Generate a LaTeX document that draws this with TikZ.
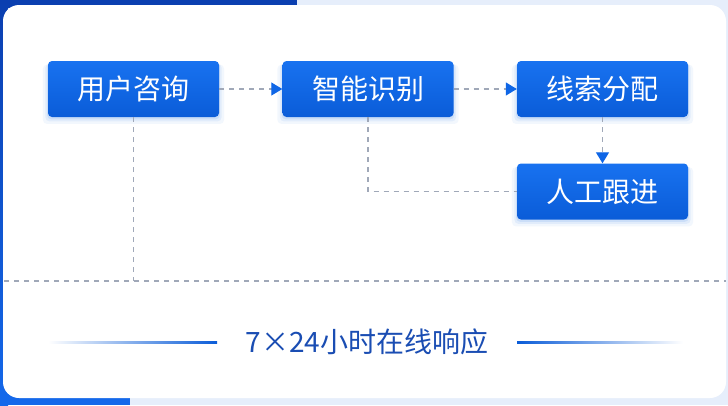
\documentclass[tikz,border=0pt]{standalone}
\usepackage{fontspec}
\setmainfont{Noto Sans CJK SC}
\usetikzlibrary{arrows.meta,shadows}
\definecolor{boxtop}{HTML}{1872F0}
\definecolor{boxbot}{HTML}{0A5CD8}
\definecolor{tipblue}{HTML}{0F66E6}
\definecolor{dashgray}{HTML}{A0A8B8}
\definecolor{txtblue}{HTML}{1A4DB3}
\definecolor{pagebg}{HTML}{E6EEFB}
\definecolor{frameblue}{HTML}{0B3FB0}
\definecolor{frameblue2}{HTML}{1468EA}
\tikzset{
  stepbox/.style={rectangle, rounded corners=4pt, minimum width=171pt, minimum height=56pt,
    top color=boxtop, bottom color=boxbot, draw=none, text=white,
    font=\fontsize{28}{30}\selectfont, inner sep=0pt,
    general shadow={fill=tipblue, opacity=0.05, shadow yshift=-5pt, shadow xshift=0pt, shadow scale=1.06},
    general shadow={fill=tipblue, opacity=0.07, shadow yshift=-3.5pt, shadow xshift=0pt, shadow scale=1.03},
    general shadow={fill=tipblue, opacity=0.10, shadow yshift=-2pt, shadow xshift=0pt, shadow scale=1.01}},
  dline/.style={draw=dashgray, line width=1.1pt, dash pattern=on 5pt off 5pt},
  arr/.style={dline, -{Triangle[length=11pt,width=13pt,color=tipblue]}},
}
\begin{document}
\begin{tikzpicture}[x=1pt,y=-1pt]
\useasboundingbox (0,0) rectangle (728,405);
% page background
\fill[pagebg] (0,0) rectangle (728,405);
\fill[frameblue] (0,0) rectangle (297,8);
\shade[top color=frameblue, bottom color=frameblue2] (0,0) rectangle (8,405);
\fill[frameblue2] (0,390) rectangle (130,405);
% card
\fill[white, rounded corners=16pt] (3,5) rectangle (726,398);
% boxes
\node[stepbox] (a) at (133.5,89) {用户咨询};
\node[stepbox] (b) at (368,89) {智能识别};
\node[stepbox] (c) at (602.5,89) {线索分配};
\node[stepbox] (d) at (602.5,191.5) {人工跟进};
% connectors
\draw[arr] (a.east) -- (b.west);
\draw[arr] (b.east) -- (c.west);
\draw[arr] (c.south) -- (d.north);
\draw[dline] (b.south) |- (d.west);
\coordinate (sepL) at (4,281);
\coordinate (sepR) at (726,281);
\draw[dline] (sepL) -- (sepR);
\draw[dline] (a.south) -- (a.south |- sepL);
% bottom text
\node[text=txtblue, font=\fontsize{28}{30}\selectfont, inner sep=0pt] (t) at (367,342) {7×24小时在线响应};
\coordinate (l1) at (48,342);
\coordinate (r1) at (683,342);
\shade[left color=white, right color=boxbot] (l1 |- 0,341) rectangle (217,343.5);
\shade[left color=boxbot, right color=white] (517,341) rectangle (r1 |- 0,343.5);
\end{tikzpicture}
\end{document}
